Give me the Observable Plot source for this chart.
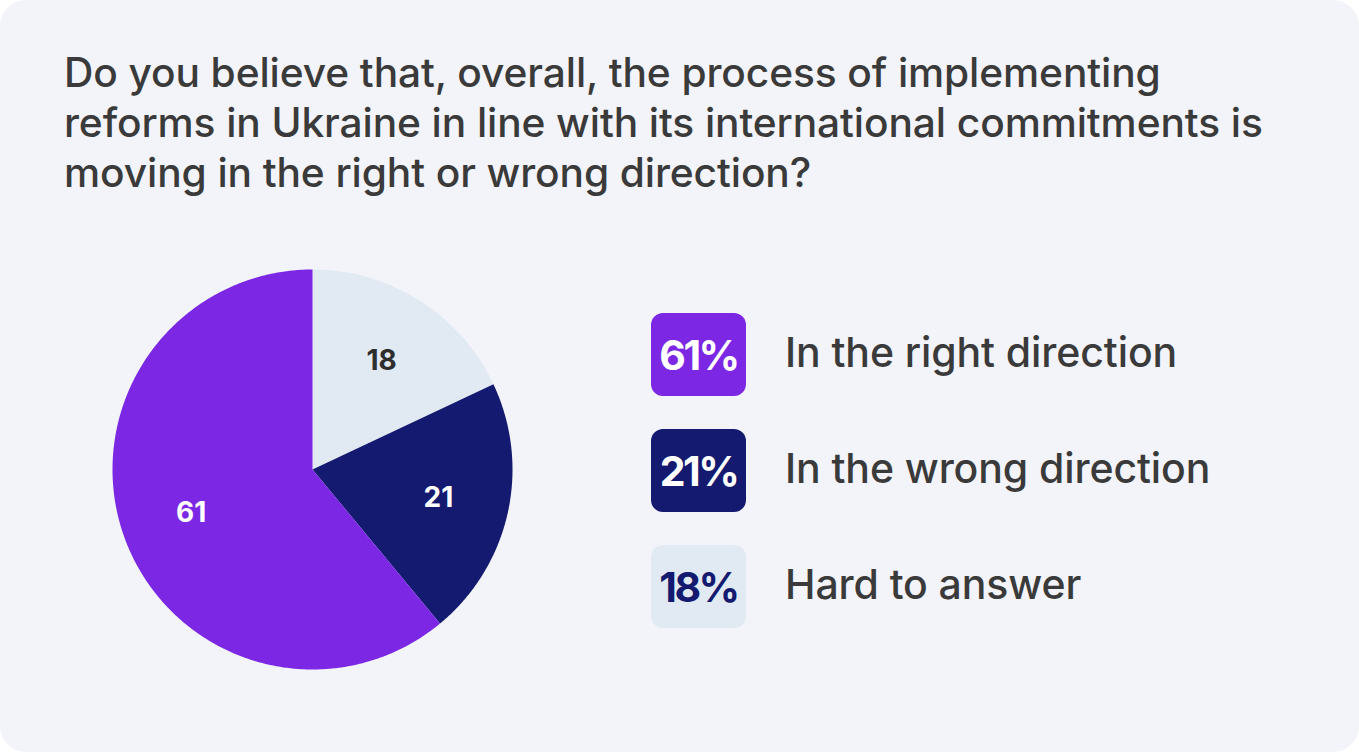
<!DOCTYPE html>
<html>
<head>
<meta charset="utf-8">
<script src="https://cdn.jsdelivr.net/npm/d3@7"></script>
<script src="https://cdn.jsdelivr.net/npm/@observablehq/plot@0.6"></script>
<style>
  html, body { margin: 0; padding: 0; background: #ffffff; }
  #card {
    position: relative; width: 1359px; height: 752px;
    background: #f3f4f9; border-radius: 26px; overflow: hidden;
    font-family: Inter, "Noto Sans", sans-serif; color: #3a3a3a;
  }
  #title {
    position: absolute; left: 64px; top: 48px; margin: 0;
    font-size: 40.7px; font-weight: 500; line-height: 50px; letter-spacing: -0.1px;
    white-space: nowrap; color: #3a3a3a;
  }
  #pie { position: absolute; left: 112px; top: 269px; }
  .item { position: absolute; left: 651px; height: 83px; display: flex; align-items: center; }
  .box {
    width: 95px; height: 83px; border-radius: 12px;
    display: flex; align-items: center; justify-content: center;
    font-size: 41px; font-weight: 700; letter-spacing: -2.5px;
  }
  .lab { margin-left: 39px; font-size: 41px; font-weight: 500; color: #3a3a3a; letter-spacing: -0.1px; margin-top: -6px; }
</style>
</head>
<body>
<div id="card">
  <h1 id="title">Do you believe that, overall, the process of implementing<br>reforms in Ukraine in line with its international commitments is<br>moving in the right or wrong direction?</h1>
  <div id="pie"></div>
  <div id="legend"></div>
</div>
<script>
// Data (clockwise from 12 o'clock)
const categories = ["Hard to answer", "In the wrong direction", "In the right direction"];
const values = [18, 21, 61];
const colors = ["#e1e9f2", "#131a6f", "#7b27e4"];
const labelColors = ["#2e2e2e", "#ffffff", "#ffffff"];
// Legend order
const legendOrder = ["In the right direction", "In the wrong direction", "Hard to answer"];
const legendTextColors = { "In the right direction": "#ffffff", "In the wrong direction": "#ffffff", "Hard to answer": "#131a6f" };

const pie = d3.pie().sort(null).value(d => d)(values);

// Build slice polygons from the pie angles
const sliceRows = [];
pie.forEach((p, i) => {
  const key = categories[i];
  sliceRows.push({key, x: 0, y: 0});
  const n = Math.max(2, Math.ceil((p.endAngle - p.startAngle) / (Math.PI / 360)));
  for (let k = 0; k <= n; k++) {
    const a = p.startAngle + (p.endAngle - p.startAngle) * k / n;
    sliceRows.push({key, x: Math.sin(a), y: Math.cos(a)});
  }
  sliceRows.push({key, x: 0, y: 0});
});
const labelR = 0.645;
const labelRows = pie.map((p, i) => {
  const a = (p.startAngle + p.endAngle) / 2;
  return {key: categories[i], text: String(values[i]), x: labelR * Math.sin(a), y: labelR * Math.cos(a), c: labelColors[i]};
});

const chart = Plot.plot({
  width: 400, height: 400,
  margin: 0,
  x: {domain: [-1, 1], axis: null},
  y: {domain: [-1, 1], axis: null},
  style: {background: "transparent", overflow: "visible", fontSize: "28px"},
  marks: [
    ...categories.map((c, i) => Plot.line(sliceRows.filter(d => d.key === c), {x: "x", y: "y", fill: colors[i], stroke: "none"})),
    Plot.text(labelRows, {x: "x", y: "y", text: "text", fill: "c", fontSize: 28, fontWeight: 700, fontFamily: "Inter, sans-serif"})
  ]
});
document.getElementById("pie").appendChild(chart);

// Legend
const legend = document.getElementById("legend");
const tops = [313, 429, 545];
legendOrder.forEach((name, j) => {
  const i = categories.indexOf(name);
  const item = document.createElement("div");
  item.className = "item";
  item.style.top = tops[j] + "px";
  const box = document.createElement("div");
  box.className = "box";
  box.style.background = colors[i];
  box.style.color = legendTextColors[name];
  box.textContent = values[i] + "%";
  const lab = document.createElement("div");
  lab.className = "lab";
  lab.textContent = name;
  item.appendChild(box); item.appendChild(lab);
  legend.appendChild(item);
});
</script>
</body>
</html>
